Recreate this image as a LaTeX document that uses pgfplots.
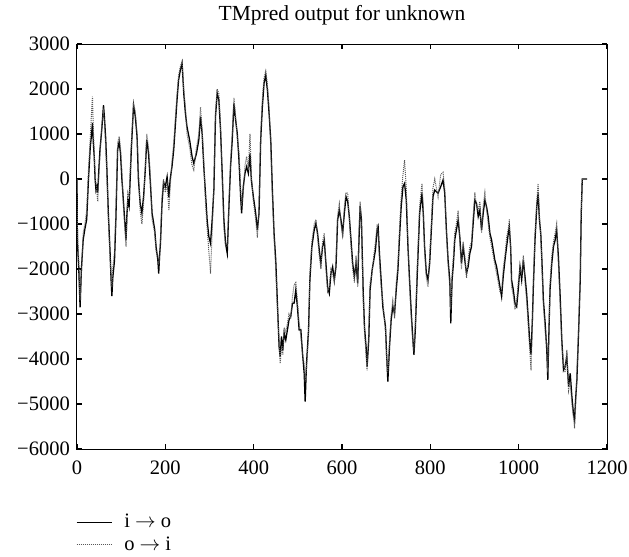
\documentclass[border=0pt]{standalone}
\usepackage{pgfplots}
\pgfplotsset{compat=1.18}
\usepackage{fontspec}
\setmainfont{Liberation Serif}
\begin{document}
\fontsize{20.5bp}{24bp}\selectfont
\begin{tikzpicture}
\begin{axis}[
  name=ax,
  scale only axis,
  width=530bp, height=405bp,
  xmin=0, xmax=1200, ymin=-6000, ymax=3000,
  xtick={0,200,400,600,800,1000,1200},
  xticklabels={0,200,400,600,800,1000,1200},
  ytick={-6000,-5000,-4000,-3000,-2000,-1000,0,1000,2000,3000},
  yticklabels={−6000,−5000,−4000,−3000,−2000,−1000,0,1000,2000,3000},
  tick align=inside,
  major tick length=5bp,
  every tick/.style={line width=1.3bp, black},
  axis line style={line width=1bp},
  xticklabel style={inner sep=0pt, anchor=north, yshift=-12bp},
  yticklabel style={inner sep=0pt, anchor=east, xshift=-7bp},
  tick label style={font=\fontsize{20.5bp}{24bp}\selectfont},
  title={TMpred output for unknown},
  title style={at={(0.5,1)}, anchor=base, yshift=18bp, inner sep=0pt, font=\fontsize{21.5bp}{25bp}\selectfont},
  legend style={at={(0,0)}, anchor=north west, yshift=-62bp, xshift=-1bp, draw=none, fill=none, inner sep=0pt, outer sep=0pt, row sep=0pt, nodes={inner sep=3bp}, font=\fontsize{20.5bp}{24bp}\selectfont},
  legend cell align=left,
  legend image code/.code={\draw[#1] (0bp,0bp) -- (35bp,0bp);},
]
\addplot[black, line width=1.3bp] coordinates {
(0,0) (1,-1400) (4,-2000) (7,-2850) (10,-2000) (14,-1350) (18,-1100) (22,-900) (26,0) (30,700) (33,1000) (35,1240) (37,800) (39,500) (41,0) (43,-250) (45,-170) (47,-300) (49,130) (52,650) (56,1090) (60,1640) (62,1390) (65,900) (67.5,270) (71,-760) (75,-1650) (77,-2200) (79,-2600) (81,-2200) (85,-1800) (88,-900) (92,650) (95.5,830) (98.5,570) (101.6,0) (105,-470) (109,-1060) (111,-1350) (113,-800) (115,-470) (118,-610) (123,650) (128,1640) (132,1390) (136,940) (139,0) (143,-540) (147,-760) (151,-360) (154.6,200) (158,870) (162,570) (166,-70) (170,-760) (176,-1130) (179,-1500) (183,-1800) (185,-2100) (187,-1700) (189,-1430) (192.5,-540) (196,-70) (200,-170) (204,50) (208,-400) (211,0) (215,270) (219,650) (223,1240) (226.5,1760) (230,2200) (234,2420) (238,2570) (241.7,1904) (245.5,1459) (249,1163) (255,867) (260.6,496) (264.4,348) (270.5,570) (275.8,867) (279.6,1385) (283.3,1015) (287.1,274) (290.9,-318) (294.7,-911) (298.5,-1281) (302.3,-1429) (306,-911) (309.9,-244) (313.6,1385) (317.4,1904) (321.2,1756) (325,1089) (328.8,126) (332.6,-911) (336.4,-1429) (340.2,-1652) (344,-615) (347.7,274) (351.5,867) (355.3,1681) (359.1,1311) (362.9,1015) (366.7,422) (370.5,-392) (372.7,-763) (376.5,-170) (380.3,126) (384.1,274) (387.9,126) (391.7,570) (394.7,-22) (399.3,-392) (404.6,-763) (408.4,-1133) (412.1,-763) (415.9,867) (419.7,1607) (423.5,2126) (427.3,2311) (431.1,1978) (434.9,1459) (438.7,867) (442.4,-244) (446.2,-1207) (450,-1800) (453.8,-2763) (457.6,-3726) (460,-3948) (463,-3500) (466,-3800) (469,-3422) (472.7,-3577) (476.5,-3348) (480,-3133) (484,-3052) (487.9,-2763) (491.7,-2755) (495.4,-2466) (499,-2837) (503,-3355) (506.8,-3348) (510.6,-3874) (514.4,-4318) (516.6,-4948) (519.7,-4096) (524.2,-3355) (527.3,-2244) (531.8,-1503) (537.1,-1133) (540.9,-985) (544.7,-1207) (548.5,-1577) (552.2,-1874) (556,-1503) (559.8,-1355) (563.6,-1874) (567.4,-2392) (571.2,-2540) (575,-2096) (578.8,-1948) (582.6,-2244) (586.4,-1948) (590.1,-911) (593.9,-689) (597.7,-911) (601.5,-1207) (605.3,-763) (609.1,-392) (612.9,-500) (616.6,-837) (620.4,-1355) (624.2,-1874) (628,-2170) (631.8,-1874) (635.6,-2318) (638,-1500) (641,-600) (644,-900) (648,-2500) (651,-3300) (654.5,-3726) (656.8,-4170) (660.6,-3577) (663.6,-2466) (668.2,-2022) (672,-1800) (675.7,-1577) (679.5,-1133) (681.8,-1059) (684.8,-1651) (688.6,-2244) (692.4,-2837) (698.5,-3281) (701,-3900) (703.8,-4503) (707.6,-3726) (711.3,-3133) (715,-2837) (719,-2985) (722.8,-2466) (726.6,-2022) (730.3,-1281) (734,-615) (738,-170) (741.7,-96) (745.5,-466) (749.3,-1503) (753,-2244) (756.9,-2985) (760.6,-3577) (762.9,-3910) (766,-3355) (770.5,-2096) (775.8,-763) (781,-318) (784,-763) (787,-1503) (791,-2096) (794.7,-2244) (798.5,-1874) (802.3,-1133) (806,-392) (810,-244) (817.5,-318) (823.5,-170) (828.8,-22) (832.6,-318) (836.4,-1133) (840.2,-1800) (844,-2244) (846.3,-3207) (849.3,-2244) (852.3,-1874) (855.3,-1355) (859,-1133) (863,-911) (866.7,-1281) (870.5,-1874) (874.3,-1503) (878,-1800) (881.9,-2096) (885.6,-1948) (889.4,-1651) (893.2,-1503) (897,-985) (900.8,-466) (904.6,-540) (908.4,-837) (912.2,-689) (916,-1133) (919.7,-763) (923.5,-466) (927.3,-615) (931,-837) (934.9,-1207) (938.7,-1355) (946,-1800) (950,-1948) (953.8,-2170) (957.6,-2392) (961.4,-2615) (965,-2170) (969,-1800) (972.7,-1503) (976.5,-1207) (978.8,-1059) (981.8,-1503) (984,-2244) (987.9,-2466) (991.7,-2763) (995.5,-2837) (999,-2466) (1003,-1948) (1006.8,-2244) (1010.6,-1800) (1014.4,-2170) (1018,-2540) (1022,-3133) (1025.8,-3726) (1028,-3900) (1031,-3133) (1033.3,-2392) (1037,-1355) (1041,-615) (1044,-318) (1047,-911) (1050,-1207) (1052,-1651) (1056,-2689) (1060,-3207) (1063.6,-3800) (1066,-4466) (1068,-3577) (1071,-2466) (1075,-1874) (1078.8,-1503) (1082.6,-1355) (1086,-1133) (1090,-1726) (1094,-2615) (1097.7,-3577) (1101.5,-4244) (1105,-4170) (1109,-3948) (1113,-4614) (1116.7,-4318) (1120.5,-4837) (1124,-5207) (1126.5,-5355) (1128.8,-4911) (1131.8,-4466) (1135.6,-3429) (1139.4,-2244) (1141.7,-763) (1144,0) (1155,0)
};
\addlegendentry{\hspace{9bp}i $\rightarrow$ o}
\addplot[black!65, line width=1bp, densely dotted] coordinates {
(0,0) (1,-1200) (4,-1800) (7,-2700) (10,-2100) (14,-1200) (18,-1000) (22,-700) (26,200) (30,900) (33,1500) (35,1830) (37,1100) (39,600) (41,100) (43,-100) (45,-300) (47,-500) (49,0) (52,500) (56,1200) (60,1500) (62,1300) (65,700) (67.5,100) (71,-900) (75,-1800) (77,-2100) (79,-2400) (81,-2000) (85,-1600) (88,-700) (92,800) (95.5,950) (98.5,700) (101.6,200) (105,-600) (109,-1200) (111,-1500) (113,-900) (115,-300) (118,-400) (123,800) (128,1700) (132,1500) (136,1000) (139,200) (143,-700) (147,-1000) (151,-500) (154.6,300) (158,1000) (162,700) (166,100) (170,-900) (176,-1200) (179,-1600) (183,-1700) (185,-1900) (187,-1800) (189,-1300) (192.5,-400) (196,0) (200,-300) (204,-100) (208,-700) (211,-200) (215,400) (219,800) (223,1400) (226.5,1900) (230,2300) (234,2500) (238,2620) (241.7,2000) (245.5,1600) (249,1000) (255,700) (260.6,300) (264.4,200) (270.5,700) (275.8,1000) (279.6,1600) (283.3,1100) (287.1,400) (290.9,-500) (294.7,-1100) (298.5,-1600) (302.3,-2100) (306,-1200) (309.9,-100) (313.6,1500) (317.4,2000) (321.2,1900) (325,1200) (328.8,0) (332.6,-1100) (336.4,-1500) (340.2,-1500) (344,-500) (347.7,400) (351.5,1000) (355.3,1800) (359.1,1400) (362.9,900) (366.7,600) (370.5,-200) (372.7,-600) (376.5,-300) (380.3,300) (384.1,500) (387.9,200) (391.7,1000) (394.7,100) (399.3,-500) (404.6,-900) (408.4,-1300) (412.1,-600) (415.9,1000) (419.7,1800) (423.5,2250) (427.3,2400) (431.1,2100) (434.9,1600) (438.7,700) (442.4,-400) (446.2,-1300) (450,-2000) (453.8,-2900) (457.6,-3600) (460,-4100) (463,-3700) (466,-3900) (469,-3300) (472.7,-3400) (476.5,-3200) (480,-3000) (484,-3100) (487.9,-2600) (491.7,-2350) (495.4,-2300) (499,-2700) (503,-3200) (506.8,-3500) (510.6,-3900) (514.4,-4100) (516.6,-4500) (519.7,-4200) (524.2,-3500) (527.3,-2100) (531.8,-1400) (537.1,-1000) (540.9,-900) (544.7,-1300) (548.5,-1700) (552.2,-2000) (556,-1400) (559.8,-1200) (563.6,-2000) (567.4,-2500) (571.2,-2400) (575,-2000) (578.8,-2100) (582.6,-2300) (586.4,-1800) (590.1,-800) (593.9,-550) (597.7,-1000) (601.5,-1300) (605.3,-600) (609.1,-300) (612.9,-320) (616.6,-900) (620.4,-1500) (624.2,-2000) (628,-2300) (631.8,-1700) (635.6,-2400) (638,-1300) (641,-500) (644,-1000) (648,-2700) (651,-3400) (654.5,-3900) (656.8,-4250) (660.6,-3400) (663.6,-2300) (668.2,-2100) (672,-1700) (675.7,-1400) (679.5,-1000) (681.8,-1200) (684.8,-1800) (688.6,-2400) (692.4,-2700) (698.5,-3400) (701,-4000) (703.8,-4300) (707.6,-3600) (711.3,-3000) (715,-2700) (719,-3100) (722.8,-2300) (726.6,-1900) (730.3,-1100) (734,-400) (738,100) (741.7,420) (745.5,-200) (749.3,-1400) (753,-2400) (756.9,-3100) (760.6,-3700) (762.9,-3800) (766,-3200) (770.5,-1900) (775.8,-600) (781,-100) (784,-600) (787,-1600) (791,-2200) (794.7,-2400) (798.5,-1700) (802.3,-1000) (806,-200) (810,0) (817.5,-400) (823.5,100) (828.8,150) (832.6,-200) (836.4,-1200) (840.2,-1900) (844,-2400) (846.3,-2900) (849.3,-2100) (852.3,-1700) (855.3,-1200) (859,-1000) (863,-700) (866.7,-1400) (870.5,-2000) (874.3,-1400) (878,-1700) (881.9,-2200) (885.6,-1800) (889.4,-1500) (893.2,-1400) (897,-800) (900.8,-300) (904.6,-600) (908.4,-700) (912.2,-500) (916,-1200) (919.7,-600) (923.5,-300) (927.3,-700) (931,-1000) (934.9,-1300) (938.7,-1500) (946,-1900) (950,-2100) (953.8,-2300) (957.6,-2500) (961.4,-2500) (965,-2000) (969,-1700) (972.7,-1300) (976.5,-1100) (978.8,-900) (981.8,-1600) (984,-2400) (987.9,-2600) (991.7,-2900) (995.5,-2700) (999,-2300) (1003,-2000) (1006.8,-2100) (1010.6,-1700) (1014.4,-2300) (1018,-2700) (1022,-3300) (1025.8,-3900) (1028,-4250) (1031,-3300) (1033.3,-2200) (1037,-1200) (1041,-500) (1044,-100) (1047,-800) (1050,-1300) (1052,-1800) (1056,-2800) (1060,-3400) (1063.6,-3700) (1066,-4300) (1068,-3700) (1071,-2300) (1075,-1700) (1078.8,-1400) (1082.6,-1200) (1086,-1000) (1090,-1900) (1094,-2800) (1097.7,-3700) (1101.5,-4100) (1105,-4300) (1109,-3800) (1113,-4700) (1116.7,-4500) (1120.5,-5000) (1124,-5300) (1126.5,-5540) (1128.8,-5100) (1131.8,-4300) (1135.6,-3300) (1139.4,-2100) (1141.7,-700) (1144,0) (1155,0)
};
\addlegendentry{\hspace{9bp}o $\rightarrow$ i}
\end{axis}
\path (ax.south west) ++(-77bp,-107bp) rectangle ++(629bp,556bp);
\end{tikzpicture}
\end{document}
